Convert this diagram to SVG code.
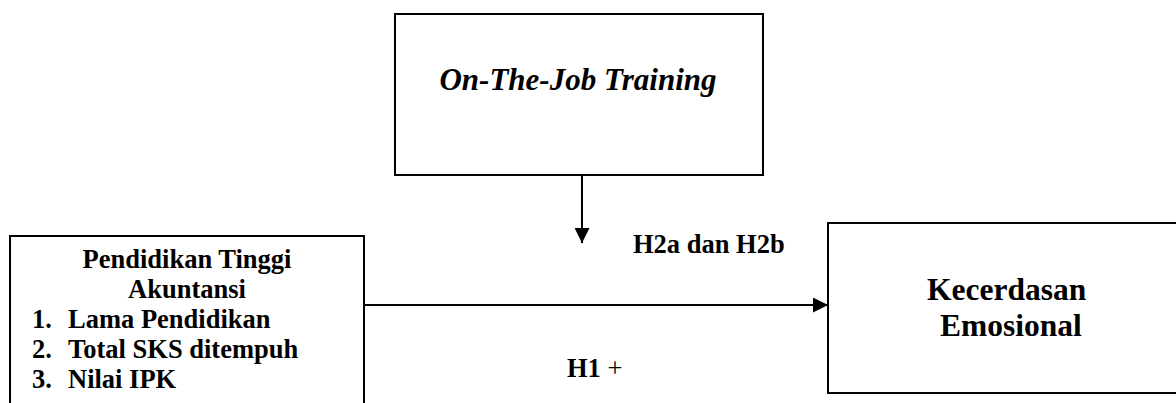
<svg xmlns="http://www.w3.org/2000/svg" width="1176" height="403" viewBox="0 0 1176 403">
<style>
.box{fill:#fff;stroke:#000;stroke-width:2}
.conn{stroke:#000;stroke-width:2;fill:none}
.t{font-family:"Liberation Serif","Times New Roman",serif;font-weight:bold;fill:#000}
</style>
<defs>
<marker id="ah" viewBox="0 0 15 15" refX="15" refY="7.5" markerWidth="15" markerHeight="15" markerUnits="userSpaceOnUse" orient="auto">
<path d="M0,0 L15,7.5 L0,15 Z" fill="#000"/>
</marker>
</defs>
<rect width="1176" height="403" fill="#fff"/>
<g id="connectors">
<line class="conn" x1="582" y1="175" x2="582" y2="243" marker-end="url(#ah)"/>
<line class="conn" x1="364" y1="305" x2="828" y2="305" marker-end="url(#ah)"/>
<text class="t" x="633" y="253" font-size="26.5">H2a dan H2b</text>
<text class="t" x="567" y="377" font-size="26.5">H1 <tspan font-weight="normal">+</tspan></text>
</g>
<g id="node-ojt">
<rect class="box" x="395" y="14" width="368" height="161"/>
<text class="t" x="578" y="90" font-size="31" font-style="italic" text-anchor="middle">On-The-Job Training</text>
</g>
<g id="node-pendidikan">
<path class="conn" d="M10,410 V236 H364 V410"/>
<text class="t" x="187" y="268" font-size="26.5" text-anchor="middle">Pendidikan Tinggi</text>
<text class="t" x="187" y="298" font-size="26.5" text-anchor="middle">Akuntansi</text>
<text class="t" x="32" y="328" font-size="26.5">1.</text>
<text class="t" x="68" y="328" font-size="26.5">Lama Pendidikan</text>
<text class="t" x="32" y="358" font-size="26.5">2.</text>
<text class="t" x="68" y="358" font-size="26.5">Total SKS ditempuh</text>
<text class="t" x="32" y="388" font-size="26.5">3.</text>
<text class="t" x="68" y="388" font-size="26.5">Nilai IPK</text>
</g>
<g id="node-kecerdasan">
<rect class="box" x="828" y="223" width="360" height="170"/>
<text class="t" x="927" y="300" font-size="31.5">Kecerdasan</text>
<text class="t" x="940" y="336" font-size="31.5">Emosional</text>
</g>
</svg>
